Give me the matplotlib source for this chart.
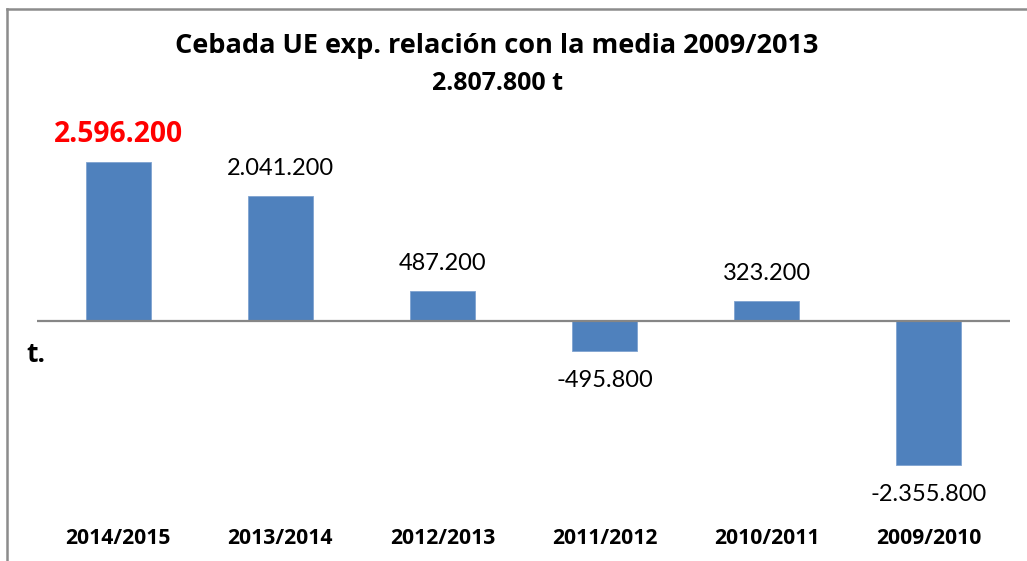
import matplotlib.pyplot as plt
from matplotlib.lines import Line2D

campanas = ['2014/2015', '2013/2014', '2012/2013', '2011/2012', '2010/2011', '2009/2010']
diferencia = [2596200, 2041200, 487200, -495800, 323200, -2355800]
etiquetas = ['2.596.200', '2.041.200', '487.200', '-495.800', '323.200', '-2.355.800']

plt.rcParams['font.family'] = ['Lato', 'DejaVu Sans']
negrita = ['Open Sans', 'DejaVu Sans']

W, H = 1027, 561
fig = plt.figure(figsize=(W / 100, H / 100), dpi=100)

# ejes en pixeles: izq 37, der 1010, arriba 110, abajo 520
ax = fig.add_axes([37 / W, (H - 520) / H, (1010 - 37) / W, (520 - 110) / H])
x = range(len(campanas))
ax.bar(x, diferencia, width=0.4, color='#4F81BD', edgecolor='#7FA3D0', linewidth=0.6, zorder=2)
ax.axhline(0, color='#868686', lw=1.6, zorder=3)
ax.set_xlim(-0.5, 5.5)
ax.set_ylim(-3.252e6, 3.448e6)
ax.set_yticks([])
ax.set_xticks(list(x))
ax.set_xticklabels(campanas, fontsize=15.2, fontweight='bold', family=negrita)
ax.tick_params(axis='x', length=0, pad=6)
for s in ax.spines.values():
    s.set_visible(False)

for i, (v, t) in enumerate(zip(diferencia, etiquetas)):
    off = 20 if v > 0 else -21
    if i == 0:
        ax.annotate(t, (i, v), xytext=(0, off), textcoords='offset points', ha='center',
                    va='center', fontsize=20.3, fontweight='bold', color='#FF0000', family=negrita)
    else:
        ax.annotate(t, (i, v), xytext=(0, off), textcoords='offset points',
                    ha='center', va='center', fontsize=17, color='black')

fig.text(497 / W, 1 - 46 / H, 'Cebada UE exp. relación con la media 2009/2013',
         ha='center', va='center', fontsize=19.5, fontweight='bold', family=negrita)
fig.text(497 / W, 1 - 83 / H, '2.807.800 t', ha='center', va='center',
         fontsize=18, fontweight='bold', family=negrita)
fig.text(26 / W, 1 - 354 / H, 't.', ha='left', va='center', fontsize=19, fontweight='bold', family=negrita)

# marco del grafico
fig.add_artist(Line2D([7 / W, 1], [1 - 9 / H, 1 - 9 / H], color='#8C8C8C', lw=1.8, transform=fig.transFigure))
fig.add_artist(Line2D([7 / W, 7 / W], [0, 1 - 9 / H], color='#8C8C8C', lw=1.8, transform=fig.transFigure))

fig.savefig('out.png', dpi=100)
